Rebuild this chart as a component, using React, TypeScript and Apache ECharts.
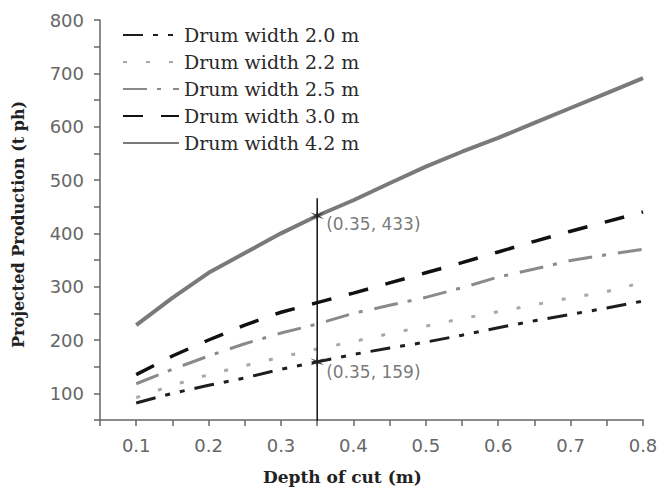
import React, { useEffect, useRef } from "react";
import * as echarts from "echarts";

// Depth of cut (m)
const depth = [0.1, 0.15, 0.2, 0.25, 0.3, 0.35, 0.4, 0.45, 0.5, 0.55, 0.6, 0.65, 0.7, 0.75, 0.8];
// Projected production (t ph) by drum width
const w20 = [82, 100, 115, 129, 145, 159, 173, 185, 196, 209, 223, 236, 248, 260, 273];
const w22 = [92, 115, 135, 152, 168, 183, 197, 212, 226, 240, 253, 266, 279, 291, 308];
const w25 = [118, 145, 170, 193, 213, 230, 250, 265, 280, 298, 318, 333, 349, 360, 370];
const w30 = [135, 170, 200, 228, 252, 270, 288, 307, 326, 345, 365, 385, 404, 422, 440];
const w42 = [228, 279, 326, 363, 400, 433, 462, 494, 525, 553, 579, 607, 635, 663, 691];
const seriesNames = ["Drum width 2.0 m", "Drum width 2.2 m", "Drum width 2.5 m", "Drum width 3.0 m", "Drum width 4.2 m"];

// Annotation
const annX = [0.35, 0.35];
const annY = [433, 159];
const annLabels = ["(0.35, 433)", "(0.35, 159)"];
const vLineY = [466, 48];

function starPath(): string {
  const arms = 6;
  const pts: string[] = [];
  for (let i = 0; i < arms * 2; i++) {
    const a = (Math.PI * i) / arms - Math.PI / 2;
    const r = i % 2 === 0 ? 10 : 2.6;
    pts.push(`${(Math.cos(a) * r).toFixed(2)} ${(Math.sin(a) * r).toFixed(2)}`);
  }
  return "path://M" + pts.join(" L") + " Z";
}

export default function App() {
  const ref = useRef<HTMLDivElement>(null);
  useEffect(() => {
    if (!ref.current) return;
    const chart = echarts.init(ref.current, undefined, { renderer: "svg" });
    const pair = (ys: number[]) => depth.map((x, i) => [x, ys[i]]);
    const mk = (name: string, ys: number[], color: string, width: number, type: any) => ({
      name,
      type: "line",
      data: pair(ys),
      symbol: "none",
      showSymbol: false,
      lineStyle: { color, width, type, cap: "butt" },
      itemStyle: { color },
      z: 3,
    });
    chart.setOption({
      animation: false,
      backgroundColor: "#ffffff",
      grid: { left: 100, right: 14, top: 20, bottom: 70, containLabel: false, outerBoundsMode: "none" },
      legend: {
        orient: "vertical",
        left: 122,
        top: 25,
        padding: 0,
        itemWidth: 56,
        itemHeight: 14,
        itemGap: 7,
        data: seriesNames,
        itemStyle: { opacity: 0 },
        textStyle: { fontFamily: "DejaVu Serif", fontSize: 19, color: "#2a2a2a", lineHeight: 20 },
      },
      xAxis: {
        type: "value",
        min: 0.05,
        max: 0.8,
        interval: 0.05,
        splitLine: { show: false },
        axisLine: { lineStyle: { color: "#666", width: 1.5 } },
        axisTick: { length: 6, lineStyle: { color: "#666", width: 1.5 } },
        axisLabel: {
          fontFamily: "DejaVu Sans",
          fontSize: 18,
          color: "#666",
          margin: 16,
          formatter: (v: number) => {
            const t = v * 10;
            return Math.abs(t - Math.round(t)) < 1e-6 ? v.toFixed(1) : "";
          },
        },
      },
      yAxis: {
        type: "value",
        min: 50,
        max: 800,
        interval: 50,
        splitLine: { show: false },
        axisLine: { show: true, lineStyle: { color: "#666", width: 1.5 } },
        axisTick: { show: true, length: 6, lineStyle: { color: "#666", width: 1.5 } },
        axisLabel: {
          fontFamily: "DejaVu Sans",
          fontSize: 18,
          color: "#666",
          margin: 16,
          formatter: (v: number) => (v % 100 === 0 ? String(v) : ""),
        },
      },
      graphic: [
        {
          type: "text",
          x: 263,
          y: 477,
          style: {
            text: "Depth of cut (m)",
            fontFamily: "DejaVu Serif",
            fontWeight: "bold",
            fontSize: 17,
            fill: "#222",
            textAlign: "left",
            textVerticalAlign: "middle",
          },
        },
        {
          type: "text",
          x: 18,
          y: 348,
          rotation: Math.PI / 2,
          style: {
            text: "Projected Production (t ph)",
            fontFamily: "DejaVu Serif",
            fontWeight: "bold",
            fontSize: 16,
            fill: "#222",
            textAlign: "left",
            textVerticalAlign: "middle",
          },
        },
      ],
      series: [
        mk(seriesNames[0], w20, "#1e1e1e", 3, [20, 10, 5, 10, 5, 10]),
        mk(seriesNames[1], w22, "#a8a8a8", 3, [4, 19]),
        mk(seriesNames[2], w25, "#8a8a8a", 3, [24, 10, 4, 12]),
        mk(seriesNames[3], w30, "#111111", 3.5, [20, 18]),
        mk(seriesNames[4], w42, "#7a7a7a", 4, "solid"),
        {
          name: "vline",
          type: "line",
          data: vLineY.map((y) => [annX[0], y]),
          symbol: "none",
          lineStyle: { color: "#111", width: 1.5 },
          z: 4,
        },
        {
          name: "ann",
          type: "scatter",
          symbol: starPath(),
          symbolSize: 14,
          itemStyle: { color: "#222" },
          z: 5,
          data: annX.map((x, i) => ({
            value: [x, annY[i]],
            label: {
              show: true,
              position: "right",
              formatter: annLabels[i],
              offset: [0, i === 0 ? 8 : 10],
              distance: 2,
              fontFamily: "DejaVu Sans",
              fontSize: 17,
              color: "#555",
            },
          })),
        },
      ],
    });
    return () => chart.dispose();
  }, []);
  return <div ref={ref} style={{ position: "fixed", left: 0, top: 0, width: 657, height: 490 }} />;
}
